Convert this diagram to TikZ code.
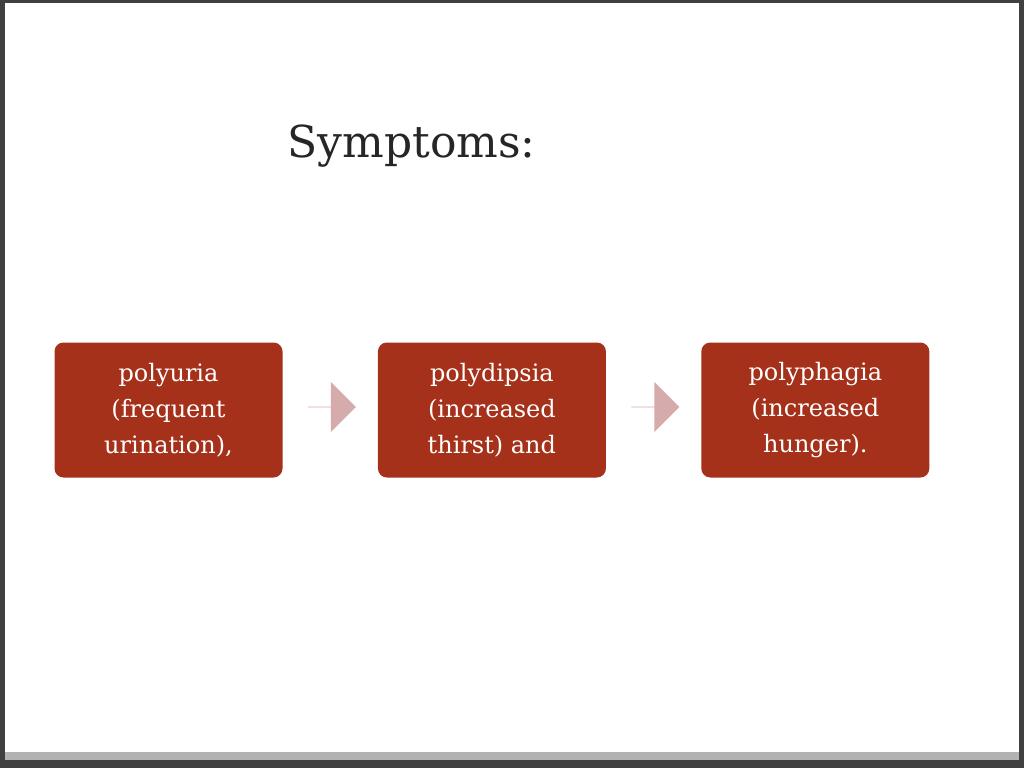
\documentclass[tikz,border=0pt]{standalone}
\usepackage{fontspec}
\setmainfont{DejaVu Serif}
\usetikzlibrary{shapes.arrows, positioning, calc}
\definecolor{boxred}{HTML}{A5311B}
\definecolor{arrowpink}{HTML}{D6ABAB}
\tikzset{
    symptom/.style={rectangle, rounded corners=9pt, fill=boxred, text=white, minimum width=228pt, minimum height=135pt, align=center, font=\fontsize{24}{36}\selectfont},
    flow/.style={single arrow, fill=arrowpink, minimum width=50pt, single arrow head extend=12pt, minimum height=48pt, inner sep=0pt, single arrow tip angle=90}
}
\begin{document}
\begin{tikzpicture}[x=1pt, y=-1pt]
    % Slide
    \fill[black!75] (0,0) rectangle (1024,768);
    \fill[white] (5,3) rectangle (1019,752);
    \fill[black!30] (5,752) rectangle (1019,760);
    \useasboundingbox (0,0) rectangle (1024,768);
    % Title
    \node (title) [anchor=west, font=\fontsize{44}{54}\selectfont, text=black!85] at (284,146) {Symptoms:};
    % Nodes
    \node (polyuria) [symptom] at (168.5,410) {polyuria\\(frequent\\urination),};
    \node (polydipsia) [symptom, right=95pt of polyuria] {polydipsia\\(increased\\thirst) and};
    \node (polyphagia) [symptom, right=95pt of polydipsia] {polyphagia\\(increased\\hunger).};
    % Arrows
    \node (arrowA) [flow, anchor=tail] at ($(polyuria.east)+(25pt,3pt)$) {};
    \node (arrowB) [flow, anchor=tail] at ($(polydipsia.east)+(25pt,3pt)$) {};
\end{tikzpicture}
\end{document}
